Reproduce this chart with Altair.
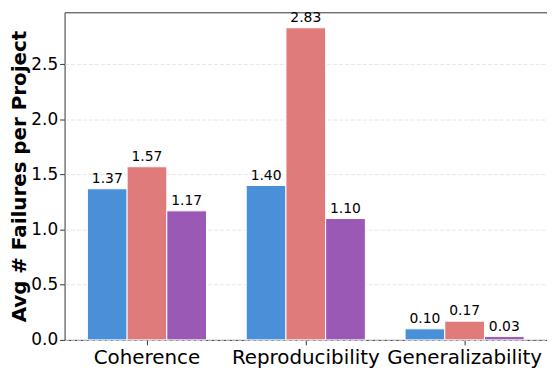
import altair as alt
import pandas as pd

categories = ["Coherence", "Reproducibility", "Generalizability"]
series = ["Series A", "Series B", "Series C"]
values_a = [1.37, 1.40, 0.10]
values_b = [1.57, 2.83, 0.17]
values_c = [1.17, 1.10, 0.03]
colors = ["#4a90d9", "#e07b7b", "#9b59b6"]

rows = []
for s, vals in zip(series, [values_a, values_b, values_c]):
    for c, v in zip(categories, vals):
        rows.append({"category": c, "series": s, "value": v, "label": f"{v:.2f}"})
df = pd.DataFrame(rows)

x = alt.X("category:N", sort=categories, title=None,
          scale=alt.Scale(paddingInner=0.25, paddingOuter=0.14375),
          axis=alt.Axis(labelAngle=0, labelFontSize=20, labelFont="DejaVu Sans",
                        labelColor="#000000", tickColor="#333333", tickSize=5,
                        domain=False, labelPadding=3))
xo = alt.XOffset("series:N", sort=series,
                 scale=alt.Scale(paddingInner=0, paddingOuter=0))
y = alt.Y("value:Q", title="Avg # Failures per Project",
          scale=alt.Scale(domain=[0, 2.97], nice=False, zero=True),
          axis=alt.Axis(values=[0, 0.5, 1.0, 1.5, 2.0, 2.5], format=".1f",
                        labelFontSize=17, labelFont="DejaVu Sans", labelColor="#000000",
                        tickColor="#333333", tickSize=5, domain=False,
                        titleFontSize=20, titleFont="DejaVu Sans", titleFontWeight="bold",
                        titleColor="#000000", titlePadding=1,
                        grid=True, gridColor="#e0e0e0", gridDash=[4, 2], gridWidth=0.8))

bars = alt.Chart(df).mark_bar(stroke="white", strokeWidth=1).encode(
    x=x, xOffset=xo, y=y,
    color=alt.Color("series:N", sort=series,
                    scale=alt.Scale(domain=series, range=colors), legend=None),
)
labels = alt.Chart(df).mark_text(baseline="bottom", dy=-3, fontSize=14,
                                 font="DejaVu Sans", color="#000000").encode(
    x=x, xOffset=xo, y=y, text="label:N"
)

chart = (bars + labels).properties(
    width=486, height=330,
    autosize=alt.AutoSizeParams(type="none"),
    padding={"left": 57, "top": 3, "right": 0, "bottom": 30},
).configure_view(stroke="#333333", strokeWidth=1)

chart.save("out.html", embed_options={"renderer": "svg", "actions": False})
